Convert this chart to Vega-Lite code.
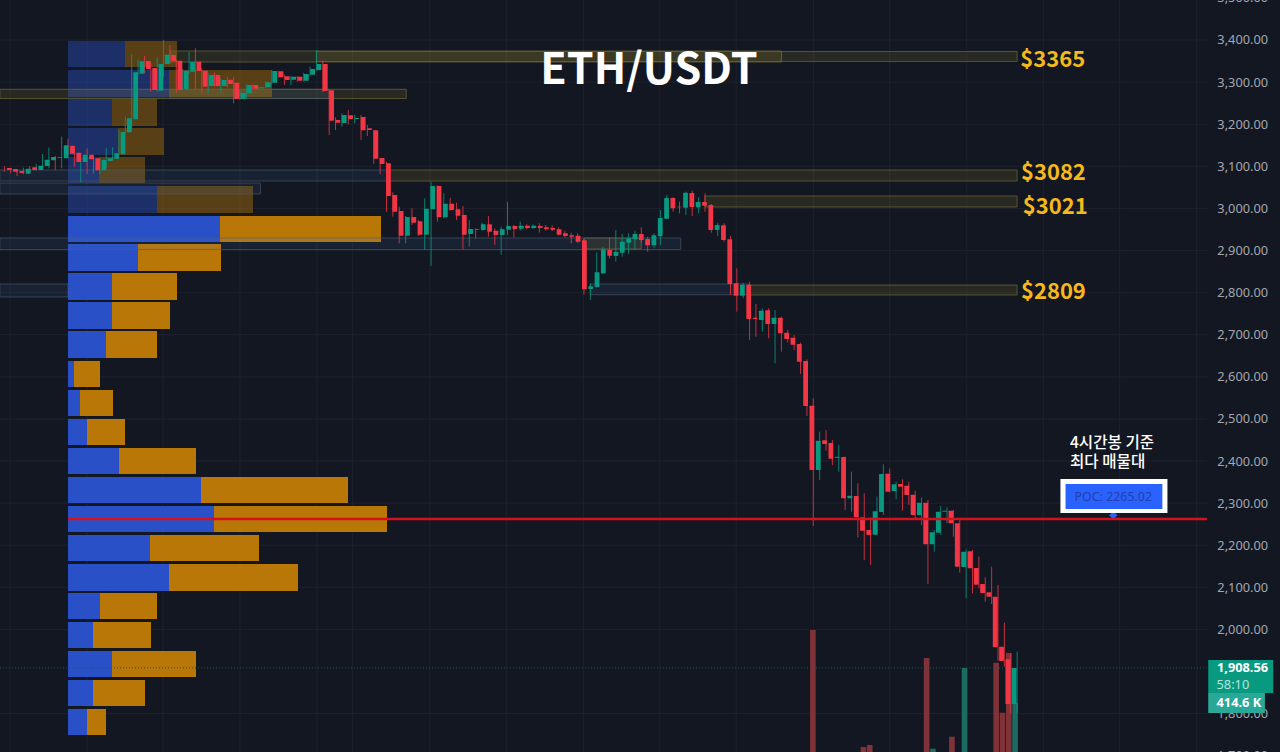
{
"$schema":"https://vega.github.io/schema/vega-lite/v6.json",
"autosize":{"type":"none"},
"width":1280,"height":752,"padding":0,
"background":"#131722",
"config":{"view":{"stroke":null},"axis":{"disable":true}},
"datasets":{
"grid":[{"bar":-19.1},{"bar":-7},{"bar":4.9},{"bar":17},{"bar":29.1},{"bar":34.7},{"bar":46.8},{"bar":58.8},{"bar":70.9},{"bar":82.9},{"bar":94.9},{"bar":107},{"bar":119},{"bar":131.1},{"bar":143.1},{"bar":155.1},{"bar":167.2}],
"ticks":[{"price":3500,"label":"3,500.00"},{"price":3400,"label":"3,400.00"},{"price":3300,"label":"3,300.00"},{"price":3200,"label":"3,200.00"},{"price":3100,"label":"3,100.00"},{"price":3000,"label":"3,000.00"},{"price":2900,"label":"2,900.00"},{"price":2800,"label":"2,800.00"},{"price":2700,"label":"2,700.00"},{"price":2600,"label":"2,600.00"},{"price":2500,"label":"2,500.00"},{"price":2400,"label":"2,400.00"},{"price":2300,"label":"2,300.00"},{"price":2200,"label":"2,200.00"},{"price":2100,"label":"2,100.00"},{"price":2000,"label":"2,000.00"},{"price":1800,"label":"1,800.00"},{"price":1700,"label":"1,700.00"}],
"volume":[{"bar":107.15,"vol":1032,"dir":"down"},{"bar":115.15,"vol":42,"dir":"down"},{"bar":116.15,"vol":59,"dir":"down"},{"bar":125.15,"vol":795,"dir":"down"},{"bar":126.15,"vol":28,"dir":"up"},{"bar":129.15,"vol":129,"dir":"down"},{"bar":131.15,"vol":711,"dir":"up"},{"bar":136.15,"vol":755,"dir":"down"},{"bar":137.15,"vol":332,"dir":"down"},{"bar":138.15,"vol":838,"dir":"down"},{"bar":139.15,"vol":414.6,"dir":"up"}],
"profile":[
{"low":3335.9,"high":3397.6,"side":"buy","vol":570},{"low":3335.9,"high":3397.6,"side":"sell","vol":520},
{"low":3264.6,"high":3328.7,"side":"buy","vol":1010},{"low":3264.6,"high":3328.7,"side":"sell","vol":1030},
{"low":3195.7,"high":3259.9,"side":"buy","vol":440},{"low":3195.7,"high":3259.9,"side":"sell","vol":450},
{"low":3126.8,"high":3191,"side":"buy","vol":500},{"low":3126.8,"high":3191,"side":"sell","vol":460},
{"low":3060.3,"high":3122,"side":"buy","vol":310},{"low":3060.3,"high":3122,"side":"sell","vol":460},
{"low":2989.1,"high":3053.2,"side":"buy","vol":890},{"low":2989.1,"high":3053.2,"side":"sell","vol":960},
{"low":2920.2,"high":2981.9,"side":"buy","vol":1520},{"low":2920.2,"high":2981.9,"side":"sell","vol":1610},
{"low":2851.3,"high":2915.4,"side":"buy","vol":700},{"low":2851.3,"high":2915.4,"side":"sell","vol":830},
{"low":2782.4,"high":2846.6,"side":"buy","vol":440},{"low":2782.4,"high":2846.6,"side":"sell","vol":650},
{"low":2713.5,"high":2777.7,"side":"buy","vol":440},{"low":2713.5,"high":2777.7,"side":"sell","vol":580},
{"low":2644.7,"high":2708.8,"side":"buy","vol":380},{"low":2644.7,"high":2708.8,"side":"sell","vol":510},
{"low":2575.8,"high":2637.5,"side":"buy","vol":60},{"low":2575.8,"high":2637.5,"side":"sell","vol":260},
{"low":2506.9,"high":2568.6,"side":"buy","vol":120},{"low":2506.9,"high":2568.6,"side":"sell","vol":330},
{"low":2438,"high":2499.8,"side":"buy","vol":190},{"low":2438,"high":2499.8,"side":"sell","vol":380},
{"low":2369.1,"high":2430.9,"side":"buy","vol":510},{"low":2369.1,"high":2430.9,"side":"sell","vol":770},
{"low":2300.2,"high":2362,"side":"buy","vol":1330},{"low":2300.2,"high":2362,"side":"sell","vol":1470},
{"low":2231.3,"high":2293.1,"side":"buy","vol":1460},{"low":2231.3,"high":2293.1,"side":"sell","vol":1730},
{"low":2162.5,"high":2224.2,"side":"buy","vol":820},{"low":2162.5,"high":2224.2,"side":"sell","vol":1090},
{"low":2091.2,"high":2155.3,"side":"buy","vol":1010},{"low":2091.2,"high":2155.3,"side":"sell","vol":1290},
{"low":2024.7,"high":2086.5,"side":"buy","vol":320},{"low":2024.7,"high":2086.5,"side":"sell","vol":570},
{"low":1955.8,"high":2017.6,"side":"buy","vol":250},{"low":1955.8,"high":2017.6,"side":"sell","vol":580},
{"low":1886.9,"high":1948.7,"side":"buy","vol":440},{"low":1886.9,"high":1948.7,"side":"sell","vol":840},
{"low":1818.1,"high":1879.8,"side":"buy","vol":250},{"low":1818.1,"high":1879.8,"side":"sell","vol":520},
{"low":1749.2,"high":1810.9,"side":"buy","vol":190},{"low":1749.2,"high":1810.9,"side":"sell","vol":190}
],
"supply":[
{"start":6,"end":102,"top":3373.9,"bottom":3347.7},
{"start":29,"end":139,"top":3372.7,"bottom":3349},
{"start":-20.7,"end":43.1,"top":3282.9,"bottom":3261},
{"start":40.2,"end":139,"top":3091.2,"bottom":3065},
{"start":90,"end":139,"top":3029.5,"bottom":3003.3},
{"start":96.7,"end":139,"top":2818,"bottom":2794.3},
{"start":71,"end":80,"top":2929.7,"bottom":2903.6}
],
"demand":[
{"start":6,"end":31,"top":3282.9,"bottom":3261},
{"start":-20.7,"end":40.2,"top":3091.2,"bottom":3065},
{"start":-20.7,"end":20.2,"top":3060.3,"bottom":3034.2},
{"start":-20.7,"end":86.2,"top":2929.7,"bottom":2902.4},
{"start":-20.7,"end":-10,"top":2820.4,"bottom":2789.6},
{"start":72,"end":96.8,"top":2820.4,"bottom":2795}
],
"candles":[
{"bar":-20,"open":3095.9,"high":3100.7,"low":3086.5,"close":3091.2},
{"bar":-19,"open":3093.6,"high":3096.7,"low":3083.3,"close":3087.2},
{"bar":-18,"open":3088.8,"high":3091.2,"low":3077,"close":3084.1},
{"bar":-17,"open":3082.5,"high":3096.7,"low":3080.9,"close":3094.4},
{"bar":-16,"open":3097.5,"high":3100.7,"low":3086.5,"close":3091.2},
{"bar":-15,"open":3091.2,"high":3105.5,"low":3089.6,"close":3101.5},
{"bar":-14,"open":3100.7,"high":3129.2,"low":3098.3,"close":3115.8},
{"bar":-13,"open":3114.2,"high":3144.2,"low":3095.2,"close":3122.1},
{"bar":-12,"open":3122.1,"high":3124.5,"low":3091.2,"close":3120.5},
{"bar":-11,"open":3118.9,"high":3170.4,"low":3095.2,"close":3149.8},
{"bar":-10,"open":3149,"high":3165.6,"low":3128.4,"close":3130},
{"bar":-9,"open":3132.4,"high":3142.7,"low":3099.1,"close":3110.2},
{"bar":-8,"open":3110.2,"high":3128.4,"low":3061.1,"close":3127.6},
{"bar":-7,"open":3127.6,"high":3142.7,"low":3081.7,"close":3116.5},
{"bar":-6,"open":3118.9,"high":3124.5,"low":3082.5,"close":3090.4},
{"bar":-5,"open":3090.4,"high":3118.9,"low":3081.7,"close":3115},
{"bar":-4,"open":3112.6,"high":3144.2,"low":3099.1,"close":3118.9},
{"bar":-3,"open":3118.1,"high":3145,"low":3115,"close":3130.8},
{"bar":-2,"open":3128.4,"high":3186.2,"low":3126.8,"close":3181.5},
{"bar":-1,"open":3180.7,"high":3217.9,"low":3178.3,"close":3213.9},
{"bar":0,"open":3211.5,"high":3366.7,"low":3189.4,"close":3323.2},
{"bar":1,"open":3320,"high":3354.1,"low":3316.9,"close":3349.3},
{"bar":2,"open":3350.1,"high":3362,"low":3320.8,"close":3331.1},
{"bar":3,"open":3333.5,"high":3344.6,"low":3277.3,"close":3281.2},
{"bar":4,"open":3279.6,"high":3358.8,"low":3277.3,"close":3343},
{"bar":5,"open":3343,"high":3400,"low":3312.9,"close":3365.2},
{"bar":6,"open":3364.4,"high":3388.1,"low":3344.6,"close":3350.1},
{"bar":7,"open":3350.9,"high":3352.5,"low":3274.9,"close":3281.2},
{"bar":8,"open":3282.8,"high":3330.3,"low":3281.2,"close":3327.2},
{"bar":9,"open":3324.8,"high":3372.3,"low":3320.8,"close":3348.5},
{"bar":10,"open":3348.5,"high":3380.2,"low":3282.8,"close":3326.4},
{"bar":11,"open":3327.2,"high":3332.7,"low":3273.3,"close":3289.2},
{"bar":12,"open":3290.7,"high":3320.8,"low":3273.3,"close":3316.9},
{"bar":13,"open":3316.9,"high":3322.4,"low":3289.2,"close":3290.7},
{"bar":14,"open":3290.7,"high":3308.9,"low":3273.3,"close":3305},
{"bar":15,"open":3305.8,"high":3312.9,"low":3287.6,"close":3295.5},
{"bar":16,"open":3298.7,"high":3312.9,"low":3249.6,"close":3259.8},
{"bar":17,"open":3259.8,"high":3281.2,"low":3257.5,"close":3274.1},
{"bar":18,"open":3273.3,"high":3294.7,"low":3259.8,"close":3293.1},
{"bar":19,"open":3293.1,"high":3294.7,"low":3282.8,"close":3284.4},
{"bar":20,"open":3285.2,"high":3289.2,"low":3282.8,"close":3287.6},
{"bar":21,"open":3287.6,"high":3301,"low":3285.2,"close":3299.4},
{"bar":22,"open":3298.7,"high":3328.7,"low":3295.5,"close":3326.4},
{"bar":23,"open":3325.6,"high":3327.2,"low":3308.9,"close":3311.3},
{"bar":24,"open":3313.7,"high":3317.7,"low":3293.1,"close":3305},
{"bar":25,"open":3305.8,"high":3314.5,"low":3293.1,"close":3312.9},
{"bar":26,"open":3312.9,"high":3314.5,"low":3301,"close":3303.4},
{"bar":27,"open":3303.4,"high":3322.4,"low":3301,"close":3319.2},
{"bar":28,"open":3317.7,"high":3336.7,"low":3315.3,"close":3331.1},
{"bar":29,"open":3328.7,"high":3376.2,"low":3327.2,"close":3343},
{"bar":30,"open":3343,"high":3350.9,"low":3276.5,"close":3278.9},
{"bar":31,"open":3280.4,"high":3282.8,"low":3174.4,"close":3208.4},
{"bar":32,"open":3210,"high":3216.3,"low":3186.2,"close":3203.6},
{"bar":33,"open":3202.8,"high":3225.8,"low":3194.1,"close":3221.8},
{"bar":34,"open":3221,"high":3233.7,"low":3199.7,"close":3212.3},
{"bar":35,"open":3212.3,"high":3221.8,"low":3202.1,"close":3214.7},
{"bar":36,"open":3217.1,"high":3221.8,"low":3162.5,"close":3185.4},
{"bar":37,"open":3190.2,"high":3198.1,"low":3172,"close":3186.2},
{"bar":38,"open":3185.4,"high":3186.2,"low":3105.5,"close":3118.1},
{"bar":39,"open":3119.7,"high":3120.5,"low":3081.7,"close":3105.5},
{"bar":40,"open":3107,"high":3111,"low":2992.2,"close":3029.5},
{"bar":41,"open":3031.8,"high":3038.2,"low":2980.4,"close":2992.2},
{"bar":42,"open":2993.8,"high":3004.1,"low":2917,"close":2935.2},
{"bar":43,"open":2935.2,"high":2981.9,"low":2917,"close":2979.6},
{"bar":44,"open":2979.6,"high":3000.2,"low":2960.6,"close":2966.1},
{"bar":45,"open":2969.3,"high":2972.4,"low":2934.4,"close":2937.6},
{"bar":46,"open":2937.6,"high":3023.9,"low":2901.2,"close":2999.4},
{"bar":47,"open":2997.8,"high":3063.5,"low":2863.2,"close":3053.2},
{"bar":48,"open":3053.2,"high":3054.8,"low":2968.5,"close":2978.8},
{"bar":49,"open":2978.8,"high":3035.8,"low":2976.4,"close":3011.2},
{"bar":50,"open":3011.2,"high":3025.5,"low":2994.6,"close":2996.2},
{"bar":51,"open":2997.8,"high":3013.6,"low":2972.4,"close":2982.7},
{"bar":52,"open":2984.3,"high":3005.7,"low":2902.8,"close":2937.6},
{"bar":53,"open":2939.2,"high":2972.4,"low":2909.1,"close":2951},
{"bar":54,"open":2951,"high":2952.6,"low":2928.9,"close":2949.5},
{"bar":55,"open":2948.7,"high":2966.1,"low":2947.1,"close":2962.1},
{"bar":56,"open":2962.1,"high":2981.9,"low":2932.9,"close":2944.7},
{"bar":57,"open":2947.1,"high":2952.6,"low":2913.1,"close":2936.8},
{"bar":58,"open":2936.8,"high":2956.6,"low":2889.3,"close":2950.3},
{"bar":59,"open":2949.5,"high":3016,"low":2936.8,"close":2958.2},
{"bar":60,"open":2958.2,"high":2960.6,"low":2931.3,"close":2951},
{"bar":61,"open":2951.9,"high":2968.5,"low":2947.1,"close":2959},
{"bar":62,"open":2959,"high":2962.1,"low":2950.3,"close":2953.4},
{"bar":63,"open":2953.4,"high":2962.1,"low":2951,"close":2959},
{"bar":64,"open":2958.2,"high":2964.5,"low":2942.4,"close":2953.4},
{"bar":65,"open":2955,"high":2960.6,"low":2947.1,"close":2950.3},
{"bar":66,"open":2953.4,"high":2959.8,"low":2946.3,"close":2949.5},
{"bar":67,"open":2950.3,"high":2955,"low":2936,"close":2937.6},
{"bar":68,"open":2940.8,"high":2947.1,"low":2931.3,"close":2934.4},
{"bar":69,"open":2936,"high":2942.4,"low":2917,"close":2932.9},
{"bar":70,"open":2935.2,"high":2940.8,"low":2918.6,"close":2921},
{"bar":71,"open":2924.1,"high":2927.3,"low":2795.1,"close":2807.8},
{"bar":72,"open":2808.6,"high":2822,"low":2782.4,"close":2814.9},
{"bar":73,"open":2813.3,"high":2895.6,"low":2811.7,"close":2848.1},
{"bar":74,"open":2845.8,"high":2909.1,"low":2844.2,"close":2902.8},
{"bar":75,"open":2901.2,"high":2930.5,"low":2881.4,"close":2887.7},
{"bar":76,"open":2886.9,"high":2948.7,"low":2873.5,"close":2897.2},
{"bar":77,"open":2894.9,"high":2939.2,"low":2885.3,"close":2921},
{"bar":78,"open":2918.6,"high":2940.8,"low":2891.7,"close":2928.9},
{"bar":79,"open":2926.5,"high":2947.1,"low":2901.2,"close":2939.2},
{"bar":80,"open":2939.2,"high":2955,"low":2918.6,"close":2924.9},
{"bar":81,"open":2927.3,"high":2932.9,"low":2897.2,"close":2912.3},
{"bar":82,"open":2912.3,"high":2940.8,"low":2905.1,"close":2936},
{"bar":83,"open":2933.6,"high":2996.2,"low":2913.1,"close":2977.2},
{"bar":84,"open":2975.6,"high":3031.8,"low":2974,"close":3024.7},
{"bar":85,"open":3024.7,"high":3026.3,"low":2992.2,"close":3000.2},
{"bar":86,"open":3004.1,"high":3016,"low":2988.3,"close":3002.5},
{"bar":87,"open":3001.7,"high":3039.7,"low":2984.3,"close":3037.4},
{"bar":88,"open":3036.6,"high":3042.1,"low":2981.9,"close":3003.3},
{"bar":89,"open":3002.5,"high":3026.3,"low":2988.3,"close":3015.2},
{"bar":90,"open":3015.2,"high":3035.8,"low":2992.2,"close":3006.5},
{"bar":91,"open":3008.1,"high":3010.5,"low":2942.4,"close":2948.7},
{"bar":92,"open":2948.7,"high":2966.1,"low":2934.4,"close":2960.6},
{"bar":93,"open":2959.8,"high":2964.5,"low":2921,"close":2925},
{"bar":94,"open":2926.5,"high":2934.4,"low":2794.3,"close":2820.4},
{"bar":95,"open":2822,"high":2857.6,"low":2754.7,"close":2792.7},
{"bar":96,"open":2792.7,"high":2823.6,"low":2786.4,"close":2818.8},
{"bar":97,"open":2818.8,"high":2826,"low":2687.4,"close":2737.3},
{"bar":98,"open":2740.5,"high":2772.9,"low":2695.3,"close":2737.3},
{"bar":99,"open":2734.9,"high":2762.6,"low":2707.2,"close":2757.1},
{"bar":100,"open":2757.9,"high":2762.6,"low":2691.4,"close":2725.4},
{"bar":101,"open":2725.4,"high":2758.7,"low":2632,"close":2740.5},
{"bar":102,"open":2740.5,"high":2742.8,"low":2659.7,"close":2703.2},
{"bar":103,"open":2704.8,"high":2711.2,"low":2681.1,"close":2689.8},
{"bar":104,"open":2693,"high":2699.3,"low":2663.6,"close":2676.3},
{"bar":105,"open":2677.9,"high":2681.1,"low":2606.6,"close":2636},
{"bar":106,"open":2637.5,"high":2641.5,"low":2506.9,"close":2530.6},
{"bar":107,"open":2531.4,"high":2548.9,"low":2245.6,"close":2378.6},
{"bar":108,"open":2378.6,"high":2469.7,"low":2354.9,"close":2448.3},
{"bar":109,"open":2449.1,"high":2473.6,"low":2424.6,"close":2440.4},
{"bar":110,"open":2442.8,"high":2449.9,"low":2390.5,"close":2405.5},
{"bar":111,"open":2407.9,"high":2438,"low":2374.7,"close":2410.3},
{"bar":112,"open":2409.5,"high":2410.3,"low":2283.6,"close":2311.3},
{"bar":113,"open":2311.3,"high":2374.7,"low":2279.6,"close":2317.6},
{"bar":114,"open":2316.9,"high":2346.9,"low":2218.7,"close":2266.2},
{"bar":115,"open":2266.2,"high":2323.2,"low":2164.9,"close":2234.5},
{"bar":116,"open":2236.1,"high":2266.2,"low":2153,"close":2224.2},
{"bar":117,"open":2225,"high":2315.3,"low":2223.4,"close":2280.4},
{"bar":118,"open":2278.9,"high":2392.1,"low":2271.7,"close":2369.1},
{"bar":119,"open":2369.9,"high":2382.6,"low":2325.6,"close":2327.2},
{"bar":120,"open":2328.7,"high":2350.9,"low":2309,"close":2344.6},
{"bar":121,"open":2345.4,"high":2356.5,"low":2282,"close":2339},
{"bar":122,"open":2341.4,"high":2350.9,"low":2295.5,"close":2319.2},
{"bar":123,"open":2320,"high":2329.5,"low":2263.8,"close":2271.7},
{"bar":124,"open":2271.7,"high":2313.7,"low":2248,"close":2301},
{"bar":125,"open":2301,"high":2307.4,"low":2107.8,"close":2202.1},
{"bar":126,"open":2202.1,"high":2236.1,"low":2184.6,"close":2230.6},
{"bar":127,"open":2229.8,"high":2293.1,"low":2224.2,"close":2279.7},
{"bar":128,"open":2279.7,"high":2290,"low":2252,"close":2282},
{"bar":129,"open":2282,"high":2283.6,"low":2220.3,"close":2252},
{"bar":130,"open":2252,"high":2259.9,"low":2134.8,"close":2149},
{"bar":131,"open":2148.2,"high":2190.2,"low":2073.8,"close":2184.6},
{"bar":132,"open":2185.4,"high":2188.6,"low":2085.7,"close":2145},
{"bar":133,"open":2145.8,"high":2172.8,"low":2097.5,"close":2106.3},
{"bar":134,"open":2107.8,"high":2123.7,"low":2065.9,"close":2086.5},
{"bar":135,"open":2088,"high":2149,"low":2060.3,"close":2077.8},
{"bar":136,"open":2077.8,"high":2105.5,"low":1925.7,"close":1957.4},
{"bar":137,"open":1959,"high":2016,"low":1911.5,"close":1925},
{"bar":138,"open":1928.9,"high":1943.2,"low":1800.6,"close":1822.8},
{"bar":139,"open":1822.8,"high":1947.1,"low":1800.6,"close":1908.56}
]
},
"resolve":{"scale":{"x":"independent","y":"independent","color":"independent"}},
"layer":[
{"data":{"name":"grid"},"mark":{"type":"rule","color":"#1e222d","strokeWidth":1},"encoding":{"x":{"field":"bar","type":"quantitative","scale":{"domain":[-20.675,180.27],"nice":false},"axis":null}}},
{"data":{"name":"ticks"},"transform":[{"filter":"datum.price<3450 && datum.price>1750"}],"mark":{"type":"rule","color":"#1e222d","strokeWidth":1},"encoding":{"x":{"datum":-20.675,"scale":{"domain":[-20.675,180.27],"nice":false},"axis":null},"x2":{"datum":168.8},"y":{"field":"price","type":"quantitative","scale":{"domain":[1708.8,3495],"nice":false},"axis":null}}},
{
"data":{"name":"volume"},
"mark":{"type":"bar","size":5.6},
"encoding":{
"x":{"field":"bar","type":"quantitative","scale":{"domain":[-20.675,180.27],"nice":false},"axis":null},
"y":{"field":"vol","type":"quantitative","scale":{"domain":[0,6362],"nice":false},"axis":null},
"color":{"field":"dir","type":"nominal","scale":{"domain":["up","down"],"range":["#1b6b62","#7f3339"]},"legend":null}
}
},
{
"data":{"name":"profile"},
"transform":[{"stack":"vol","groupby":["low"],"sort":[{"field":"side","order":"ascending"}],"as":["v0","v1"]}],
"mark":{"type":"rect"},
"encoding":{
"x":{"field":"v0","type":"quantitative","scale":{"domain":[-680,12120],"nice":false},"axis":null},
"x2":{"field":"v1"},
"y":{"field":"low","type":"quantitative","scale":{"domain":[1708.8,3495],"nice":false},"axis":null},
"y2":{"field":"high"},
"color":{"field":"side","type":"nominal","scale":{"domain":["buy","sell"],"range":["#2a50c8","#b97708"]},"legend":null},
"opacity":{"condition":{"test":"datum.low>2985","value":0.42},"value":1}
}
},
{"data":{"name":"supply"},"mark":{"type":"rect","fill":"#d8c030","fillOpacity":0.11,"stroke":"#6f6a36","strokeOpacity":0.7,"strokeWidth":1},
 "encoding":{"x":{"field":"start","type":"quantitative","scale":{"domain":[-20.675,180.27],"nice":false},"axis":null},"x2":{"field":"end"},"y":{"field":"top","type":"quantitative","scale":{"domain":[1708.8,3495],"nice":false},"axis":null},"y2":{"field":"bottom"}}},
{"data":{"name":"demand"},"mark":{"type":"rect","fill":"#4f86c6","fillOpacity":0.1,"stroke":"#4f5d73","strokeOpacity":0.6,"strokeWidth":1},
 "encoding":{"x":{"field":"start","type":"quantitative","scale":{"domain":[-20.675,180.27],"nice":false},"axis":null},"x2":{"field":"end"},"y":{"field":"top","type":"quantitative","scale":{"domain":[1708.8,3495],"nice":false},"axis":null},"y2":{"field":"bottom"}}},
{"data":{"values":[{"price":1908.56}]},"mark":{"type":"rule","color":"#0d5c50","strokeWidth":1,"strokeDash":[1,2]},"encoding":{"x":{"datum":-20.675,"scale":{"domain":[-20.675,180.27],"nice":false},"axis":null},"x2":{"datum":168.8},"y":{"field":"price","type":"quantitative","scale":{"domain":[1708.8,3495],"nice":false},"axis":null}}},
{"data":{"name":"candles"},"mark":{"type":"rule","strokeWidth":1,"opacity":0.8},
 "encoding":{"x":{"field":"bar","type":"quantitative","scale":{"domain":[-20.675,180.27],"nice":false},"axis":null},"y":{"field":"low","type":"quantitative","scale":{"domain":[1708.8,3495],"nice":false},"axis":null},"y2":{"field":"high"},"color":{"condition":{"test":"datum.close>=datum.open","value":"#089981"},"value":"#f23645"}}},
{"data":{"name":"candles"},"mark":{"type":"bar","size":4.8,"cornerRadius":0.5},
 "encoding":{"x":{"field":"bar","type":"quantitative","scale":{"domain":[-20.675,180.27],"nice":false},"axis":null},"y":{"field":"open","type":"quantitative","scale":{"domain":[1708.8,3495],"nice":false},"axis":null},"y2":{"field":"close"},"color":{"condition":{"test":"datum.close>=datum.open","value":"#089981"},"value":"#f23645"}}},
{"data":{"values":[{"bar":154.1,"price":2271}]},"mark":{"type":"point","shape":"diamond","filled":true,"size":70,"color":"#2962ff","opacity":1},"encoding":{"x":{"field":"bar","type":"quantitative","scale":{"domain":[-20.675,180.27],"nice":false},"axis":null},"y":{"field":"price","type":"quantitative","scale":{"domain":[1708.8,3495],"nice":false},"axis":null}}},
{"data":{"values":[{"start":-10,"end":168.8,"price":2262}]},"mark":{"type":"rule","color":"#d6101c","strokeWidth":2.5},"encoding":{"x":{"field":"start","type":"quantitative","scale":{"domain":[-20.675,180.27],"nice":false},"axis":null},"x2":{"field":"end"},"y":{"field":"price","type":"quantitative","scale":{"domain":[1708.8,3495],"nice":false},"axis":null}}},
{"data":{"values":[{"start":145.8,"end":162.6,"top":2357.2,"bottom":2276.5}]},"mark":{"type":"rect","color":"#ffffff"},"encoding":{"x":{"field":"start","type":"quantitative","scale":{"domain":[-20.675,180.27],"nice":false},"axis":null},"x2":{"field":"end"},"y":{"field":"top","type":"quantitative","scale":{"domain":[1708.8,3495],"nice":false},"axis":null},"y2":{"field":"bottom"}}},
{"data":{"values":[{"start":146.6,"end":161.8,"top":2345.4,"bottom":2286}]},"mark":{"type":"rect","color":"#2962ff"},"encoding":{"x":{"field":"start","type":"quantitative","scale":{"domain":[-20.675,180.27],"nice":false},"axis":null},"x2":{"field":"end"},"y":{"field":"top","type":"quantitative","scale":{"domain":[1708.8,3495],"nice":false},"axis":null},"y2":{"field":"bottom"}}},
{"data":{"values":[{"bar":154.1,"price":2314.5,"label":"POC: 2265.02"}]},"mark":{"type":"text","align":"center","baseline":"middle","font":"Noto Sans","fontSize":12.4,"color":"#2440a8"},"encoding":{"x":{"field":"bar","type":"quantitative","scale":{"domain":[-20.675,180.27],"nice":false},"axis":null},"y":{"field":"price","type":"quantitative","scale":{"domain":[1708.8,3495],"nice":false},"axis":null},"text":{"field":"label"}}},
{"data":{"values":[{"bar":147.3,"price":2442.8,"label":"4시간봉 기준"},{"bar":147.3,"price":2397.6,"label":"최다 매물대"}]},"mark":{"type":"text","align":"left","baseline":"middle","font":"Noto Sans CJK KR","fontSize":15.6,"fontWeight":500,"color":"#ffffff"},"encoding":{"x":{"field":"bar","type":"quantitative","scale":{"domain":[-20.675,180.27],"nice":false},"axis":null},"y":{"field":"price","type":"quantitative","scale":{"domain":[1708.8,3495],"nice":false},"axis":null},"text":{"field":"label"}}},
{"data":{"name":"ticks"},"mark":{"type":"text","align":"right","baseline":"middle","dy":0.5,"font":"Noto Sans","fontSize":12.8,"color":"#a3a6af"},"encoding":{"x":{"datum":178.4,"scale":{"domain":[-20.675,180.27],"nice":false},"axis":null},"y":{"field":"price","type":"quantitative","scale":{"domain":[1708.8,3495],"nice":false},"axis":null},"text":{"field":"label"}}},
{"data":{"values":[{"start":169,"end":179.2,"top":1927.3,"bottom":1848.9,"tag":"price"},{"start":169,"end":177.9,"top":1848.9,"bottom":1801.4,"tag":"vol"}]},"mark":{"type":"rect"},"encoding":{"x":{"field":"start","type":"quantitative","scale":{"domain":[-20.675,180.27],"nice":false},"axis":null},"x2":{"field":"end"},"y":{"field":"top","type":"quantitative","scale":{"domain":[1708.8,3495],"nice":false},"axis":null},"y2":{"field":"bottom"},"color":{"field":"tag","type":"nominal","scale":{"domain":["price","vol"],"range":["#089981","#2aa897"]},"legend":null}}},
{"data":{"values":[{"bar":178.4,"price":1908.3,"label":"1,908.56"}]},"mark":{"type":"text","align":"right","baseline":"middle","font":"Noto Sans","fontSize":12.8,"fontWeight":"bold","color":"#ffffff"},"encoding":{"x":{"field":"bar","type":"quantitative","scale":{"domain":[-20.675,180.27],"nice":false},"axis":null},"y":{"field":"price","type":"quantitative","scale":{"domain":[1708.8,3495],"nice":false},"axis":null},"text":{"field":"label"}}},
{"data":{"values":[{"bar":170.3,"price":1868,"label":"58:10"}]},"mark":{"type":"text","align":"left","baseline":"middle","font":"Noto Sans","fontSize":12.8,"color":"#b5e3da"},"encoding":{"x":{"field":"bar","type":"quantitative","scale":{"domain":[-20.675,180.27],"nice":false},"axis":null},"y":{"field":"price","type":"quantitative","scale":{"domain":[1708.8,3495],"nice":false},"axis":null},"text":{"field":"label"}}},
{"data":{"values":[{"bar":170.3,"price":1825.2,"label":"414.6 K"}]},"mark":{"type":"text","align":"left","baseline":"middle","font":"Noto Sans","fontSize":12.8,"fontWeight":"bold","color":"#ffffff"},"encoding":{"x":{"field":"bar","type":"quantitative","scale":{"domain":[-20.675,180.27],"nice":false},"axis":null},"y":{"field":"price","type":"quantitative","scale":{"domain":[1708.8,3495],"nice":false},"axis":null},"text":{"field":"label"}}},
{"data":{"values":[{"bar":81.2,"price":3326,"label":"ETH/USDT"}]},"mark":{"type":"text","align":"center","baseline":"middle","font":"Noto Sans CJK KR","fontWeight":"bold","fontSize":43,"color":"#ffffff"},"encoding":{"x":{"field":"bar","type":"quantitative","scale":{"domain":[-20.675,180.27],"nice":false},"axis":null},"y":{"field":"price","type":"quantitative","scale":{"domain":[1708.8,3495],"nice":false},"axis":null},"text":{"field":"label"}}},
{"data":{"values":[{"bar":139.5,"price":3352.5,"label":"$3365"},{"bar":139.6,"price":3084,"label":"$3082"},{"bar":139.9,"price":3003.3,"label":"$3021"},{"bar":139.6,"price":2801.4,"label":"$2809"}]},"mark":{"type":"text","align":"left","baseline":"middle","font":"Noto Sans CJK KR","fontWeight":"bold","fontSize":22,"color":"#f6b91b"},"encoding":{"x":{"field":"bar","type":"quantitative","scale":{"domain":[-20.675,180.27],"nice":false},"axis":null},"y":{"field":"price","type":"quantitative","scale":{"domain":[1708.8,3495],"nice":false},"axis":null},"text":{"field":"label"}}}
]
}
